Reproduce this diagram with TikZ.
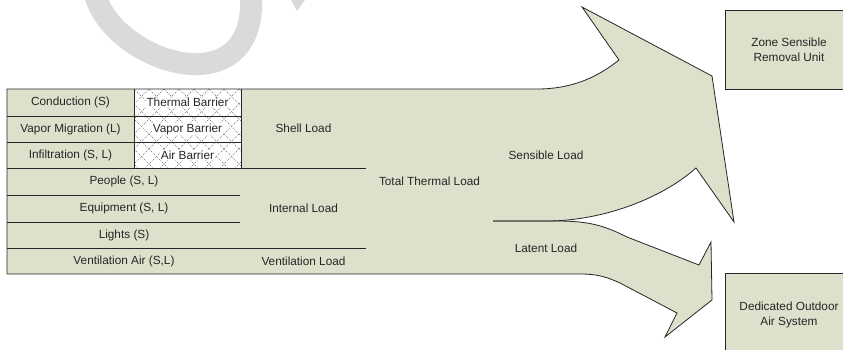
\documentclass[tikz,border=0pt]{standalone}
\usepackage{fontspec}
\setmainfont{Liberation Sans}
\definecolor{loadfill}{RGB}{221,224,203}
\definecolor{edgegray}{RGB}{38,38,38}
\definecolor{markgray}{RGB}{218,218,218}
\tikzset{
	cell/.style={font=\fontsize{11.8}{15}\selectfont, text=black!85, inner sep=0pt, align=center},
	edge/.style={draw=edgegray, line width=0.8pt, line join=miter},
	faint/.style={draw=loadfill!88!white, line width=0.4pt},
	hatch/.style={draw=black!55, line width=0.5pt, dash pattern=on 1pt off 1.2pt},
	unitbox/.style={cell, draw=edgegray, fill=loadfill, line width=0.8pt}
}
\begin{document}
\begin{tikzpicture}[x=1pt, y=-1pt]
		\useasboundingbox (0,0) rectangle (843,349);
		
		% watermark
		\draw[markgray, line width=22pt] (95,-6) .. controls (112,62) and (258,110) .. (251,-6);
		\fill[markgray] (291,0) -- (305,0) -- (297,11) -- cycle;
		
		\coordinate (TL) at (7,89);
		\coordinate (BL) at (7,274);
		\coordinate (S) at (493,221);
		
		% sensible arrow
		\fill[loadfill] (TL) -- (537,89) .. controls (575,89) and (600,75) .. (619,60) -- (582,7) -- (712,76) -- (734,222)
			-- (696,168) .. controls (660,200) and (600,221) .. (547,221) -- (7,221) -- cycle;
		
		% latent arrow
		\fill[loadfill] (7,220) -- (557,220) .. controls (590,221) and (605,226) .. (627,237) -- (699,265) -- (711,242) -- (712,300)
			-- (665,337) -- (677,313) -- (620,283) .. controls (605,276) and (595,274) .. (580,274) -- (BL) -- cycle;
		
		% barrier column
		\begin{scope}
			\clip (134,89) rectangle (241,168);
			\fill[white] (134,89) rectangle (241,168);
			\foreach \k in {-6,...,13} {
				\draw[hatch] (134+15*\k,89) -- ++(79,79);
				\draw[hatch] (134+15*\k,89) -- ++(-79,79);
			}
		\end{scope}
		
		% faint joints between the blocks
		\draw[faint] (241,168) -- (241,274);
		\draw[faint] (366,89) -- (366,274);
		\draw[faint] (493,89) -- (493,274);
		
		% table lines
		\foreach \y in {116,142} \draw[edge] (7,\y) -- (241,\y);
		\foreach \y in {195,222} \draw[edge] (7,\y) -- (240,\y);
		\foreach \y in {168,248} \draw[edge] (7,\y) -- (366,\y);
		\draw[edge] (134,89) -- (134,168);
		\draw[edge] (241,89) -- (241,168);
		
		% outlines
		\draw[edge] (BL) -- (TL) -- (537,89) .. controls (575,89) and (600,75) .. (619,60) -- (582,7) -- (712,76) -- (734,222)
			-- (696,168) .. controls (660,200) and (600,221) .. (547,221) -- (S);
		\draw[edge] (S) -- (557,221) .. controls (590,221) and (605,226) .. (627,237) -- (699,265) -- (711,242) -- (712,300)
			-- (665,337) -- (677,313) -- (620,283) .. controls (605,276) and (595,274) .. (580,274) -- (BL);
		
		% left labels
		\node[cell] (cond) at (70.5,102.5) {Conduction (S)};
		\node[cell] (vapor) at (70.5,129) {Vapor Migration (L)};
		\node[cell] (infil) at (70.5,155) {Infiltration (S, L)};
		\node[cell] (people) at (124,181.5) {People (S, L)};
		\node[cell] (equip) at (124,208.5) {Equipment (S, L)};
		\node[cell] (lights) at (124,235) {Lights (S)};
		\node[cell] (ventair) at (124,261) {Ventilation Air (S,L)};
		
		% barriers
		\node[cell, fill=white, inner sep=0.5pt] (thermal) at (187.5,102.5) {Thermal Barrier};
		\node[cell, fill=white, inner sep=0.5pt] (vbarrier) at (187.5,129) {Vapor Barrier};
		\node[cell, fill=white, inner sep=0.5pt] (abarrier) at (187.5,155) {Air Barrier};
		
		% load groups
		\node[cell] (shell) at (303.5,128.5) {Shell Load};
		\node[cell] (internal) at (303.5,208) {Internal Load};
		\node[cell] (ventload) at (303.5,261.5) {Ventilation Load};
		\node[cell] (total) at (429.5,181.5) {Total Thermal Load};
		\node[cell] (sensible) at (546,155) {Sensible Load};
		\node[cell] (latent) at (546,248) {Latent Load};
		
		% removal units
		\node[unitbox, minimum width=128pt, minimum height=79pt] (zone) at (789,49.5) {Zone Sensible\\Removal Unit};
		\node[unitbox, minimum width=128pt, minimum height=84pt] (doas) at (789,315) {Dedicated Outdoor\\Air System};
	\end{tikzpicture}
\end{document}
